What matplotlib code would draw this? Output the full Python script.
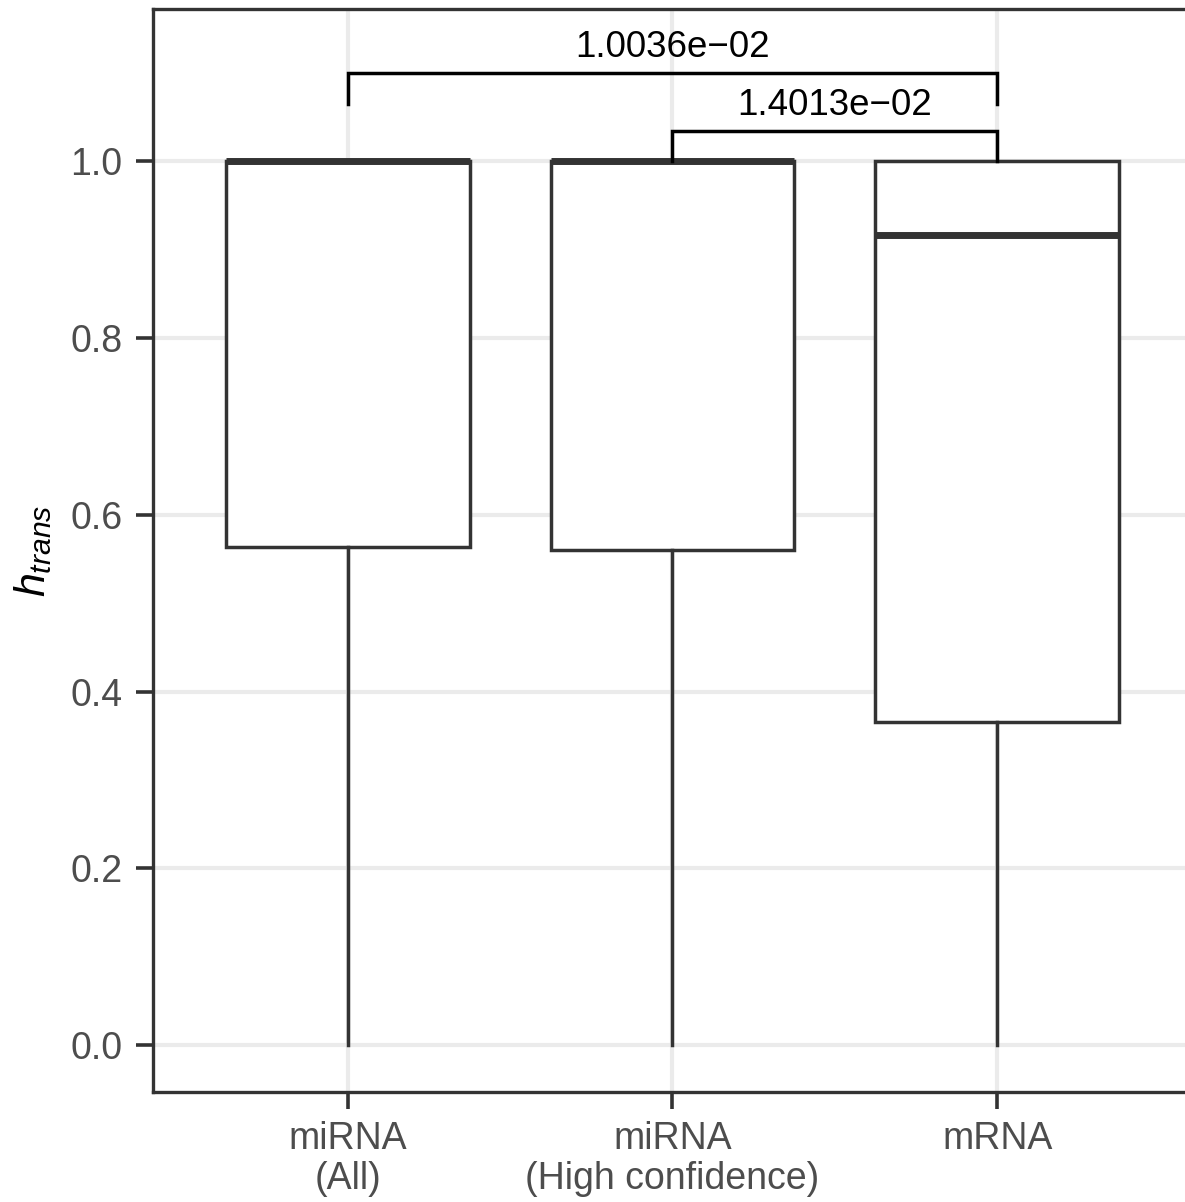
import matplotlib
matplotlib.use("Agg")
import matplotlib.pyplot as plt

plt.rcParams['font.family'] = ['Liberation Sans', 'DejaVu Sans']
plt.rcParams['mathtext.fontset'] = 'custom'
plt.rcParams['mathtext.it'] = 'Liberation Sans:italic'
plt.rcParams['mathtext.rm'] = 'Liberation Sans'

# box summary per group
groups = ["miRNA\n(All)", "miRNA\n(High confidence)", "mRNA"]
whislo = [0.0, 0.0, 0.0]
q1 = [0.563, 0.560, 0.365]
med = [1.0, 1.0, 0.916]
q3 = [1.0, 1.0, 1.0]
whishi = [1.0, 1.0, 1.0]

# significance brackets: (left group, right group, p-value text)
pairs = [(1, 3, "1.0036e\u221202"), (2, 3, "1.4013e\u221202")]
bracket_y = [1.0995, 1.034]
bracket_tip = [1.0645, 1.0]

yticks = [0.0, 0.2, 0.4, 0.6, 0.8, 1.0]

dark = "#333333"
grid = "#EBEBEB"

fig = plt.figure(figsize=(11.85, 12.02), dpi=100)
ax = fig.add_axes([153/1185, 1 - 1092/1202, (1192-153)/1185, (1092-9)/1202])

stats = []
for i in range(len(groups)):
    stats.append(dict(med=med[i], q1=q1[i], q3=q3[i], whislo=whislo[i],
                      whishi=whishi[i], fliers=[], label=groups[i]))

ax.bxp(stats, positions=[1, 2, 3], widths=0.75, showcaps=False,
       patch_artist=True,
       boxprops=dict(facecolor="white", edgecolor=dark, linewidth=2.5),
       medianprops=dict(color=dark, linewidth=5.0, solid_capstyle="butt"),
       whiskerprops=dict(color=dark, linewidth=2.5),
       zorder=3)

for (a, b, txt), y, tip in zip(pairs, bracket_y, bracket_tip):
    ax.plot([a, a, b, b], [tip, y, y, tip], color="black", linewidth=2.5,
            zorder=4, solid_joinstyle="miter")
    ax.text((a + b) / 2, y + 0.009, txt, ha="center", va="bottom",
            fontsize=26.5, color="black")

ax.set_xlim(0.4, 3.6)
ax.set_ylim(-0.053, 1.172)
ax.set_yticks(yticks)
ax.set_yticklabels([f"{v:.1f}" for v in yticks])
ax.set_xticks([1, 2, 3])
ax.set_xticklabels(groups)

ax.grid(True, color=grid, linewidth=3.0, zorder=0)
ax.set_axisbelow(True)
for s in ax.spines.values():
    s.set_color(dark)
    s.set_linewidth(2.4)

ax.tick_params(axis="both", colors=dark, length=12, width=2.6,
               labelsize=27, labelcolor="#4D4D4D")
ax.tick_params(axis="y", pad=10)
ax.tick_params(axis="x", pad=9)
for lab in ax.get_xticklabels():
    lab.set_linespacing(1.12)

ax.set_ylabel("$h_{trans}$", fontsize=31, color="black", labelpad=12)

fig.savefig("out.png", dpi=100)
